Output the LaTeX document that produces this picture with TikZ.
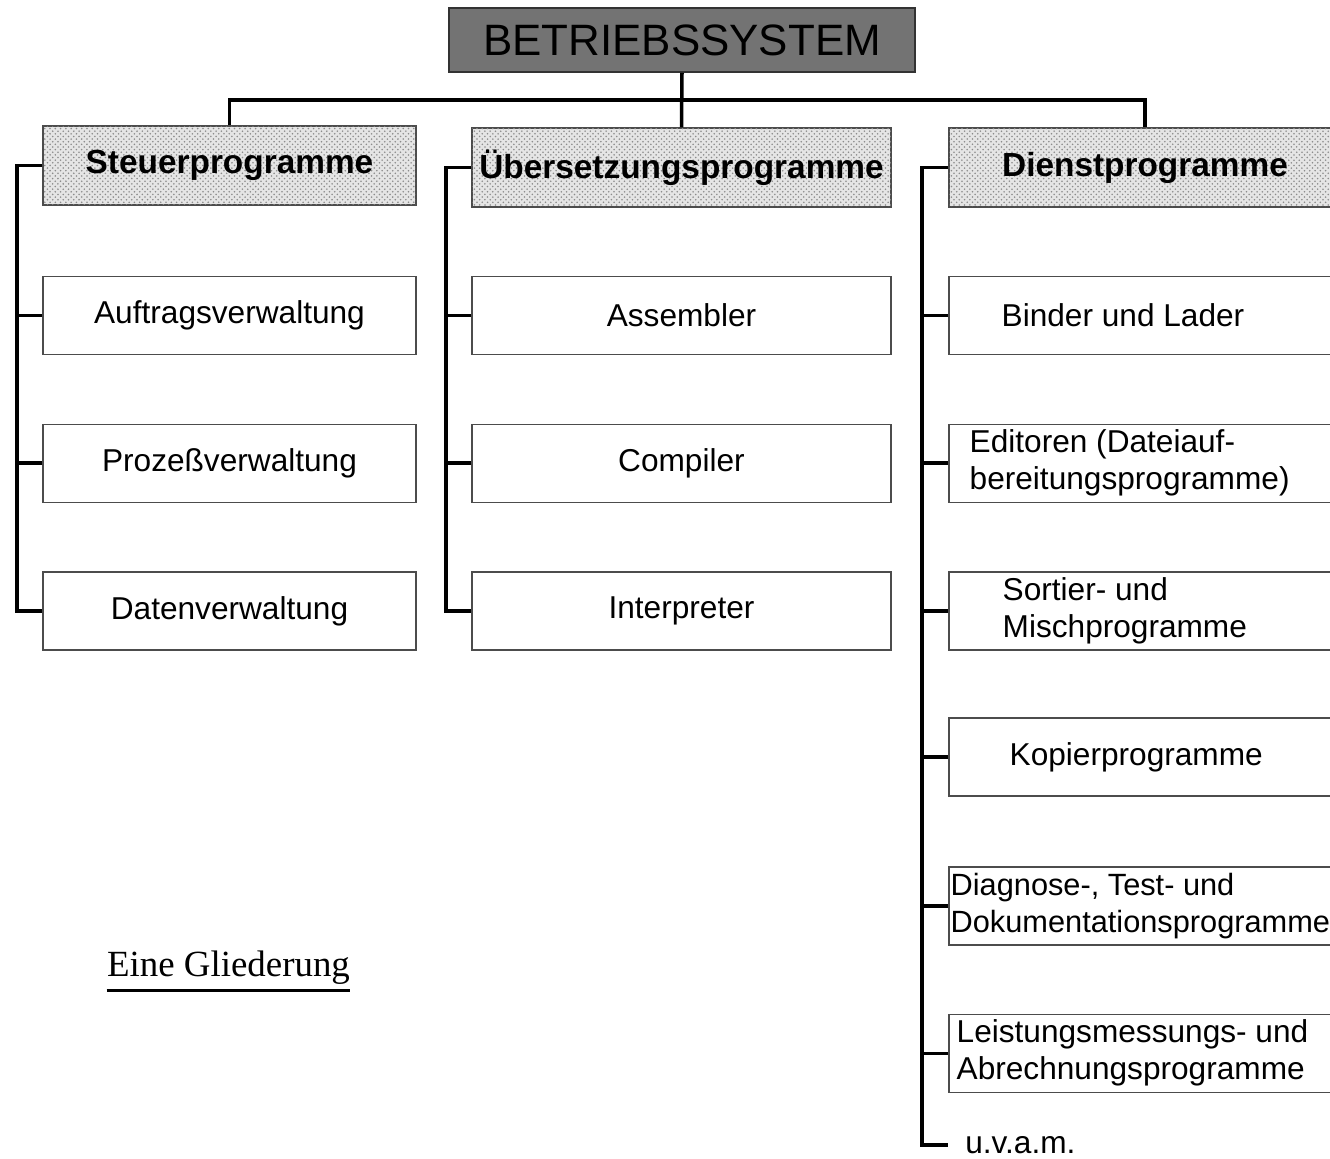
\documentclass[tikz,border=0pt]{standalone}
\usepackage{fontspec}
\setmainfont{Liberation Sans}
\newfontfamily\glfont{Liberation Serif}
\usetikzlibrary{positioning, patterns}

\begin{document}
\begin{tikzpicture}[x=0.02cm, y=-0.02cm, font=\fontsize{18}{21}\selectfont]
  \tikzstyle{topnode}=[draw=black!80, line width=1pt, fill=black!55, minimum width=9.32cm, minimum height=1.28cm, font=\fontsize{25}{28}\selectfont]
  \tikzstyle{headnode}=[draw=black!70, line width=0.8pt, fill=black!10, postaction={pattern=crosshatch dots, pattern color=black!45}, minimum height=1.58cm, font=\bfseries\fontsize{19}{22}\selectfont]
  \tikzstyle{itemnode}=[draw=black!70, line width=0.8pt, fill=white, minimum height=1.56cm, align=center]
  \tikzstyle{dnode}=[itemnode, minimum width=9cm]
  \tikzstyle{dtext}=[anchor=west, inner sep=0pt, label distance=0pt, align=left]
  \tikzstyle{conn}=[line width=2pt]

  \useasboundingbox (0,0) rectangle (1330,1159);
  \clip (0,0) rectangle (1330,1159);

  % top and the three groups
  \node[topnode] (bs) at (682,40) {BETRIEBSSYSTEM};
  \node[headnode, minimum width=7.46cm] (steuer) at (229.5,165.5) {Steuerprogramme};
  \node[headnode, minimum width=8.38cm] (uebers) at (681.5,167.5) {Übersetzungsprogramme};
  \node[headnode, minimum width=7.84cm] (dienst) at (1145,167.5) {Dienstprogramme};

  % left column
  \node[itemnode, minimum width=7.46cm, below=1.4cm of steuer] (auftrag) {Auftragsverwaltung};
  \node[itemnode, minimum width=7.46cm, below=1.37cm of auftrag] (prozess) {Prozeßverwaltung};
  \node[itemnode, minimum width=7.46cm, below=1.37cm of prozess] (daten) {Datenverwaltung};

  % middle column
  \node[itemnode, minimum width=8.38cm, below=1.36cm of uebers] (assembler) {Assembler};
  \node[itemnode, minimum width=8.38cm, below=1.37cm of assembler] (compiler) {Compiler};
  \node[itemnode, minimum width=8.38cm, below=1.37cm of compiler] (interpreter) {Interpreter};

  % right column, boxes run out of the picture
  \node[dnode, below=1.36cm of dienst.south west, anchor=north west, label={[dtext, xshift=1.06cm]west:Binder und Lader}] (binder) {};
  \node[dnode, below=1.37cm of binder.south west, anchor=north west, label={[dtext, xshift=0.42cm]west:{Editoren (Dateiauf-\\bereitungsprogramme)}}] (editoren) {};
  \node[dnode, below=1.37cm of editoren.south west, anchor=north west, label={[dtext, xshift=1.08cm]west:{Sortier- und\\Mischprogramme}}] (sortier) {};
  \node[dnode, below=1.33cm of sortier.south west, anchor=north west, label={[dtext, xshift=1.22cm]west:Kopierprogramme}] (kopier) {};
  \node[dnode, below=1.39cm of kopier.south west, anchor=north west, label={[dtext, xshift=0.04cm, font=\fontsize{17.5}{21}\selectfont]west:{Diagnose-, Test- und\\Dokumentationsprogramme}}] (diagnose) {};
  \node[dnode, below=1.36cm of diagnose.south west, anchor=north west, label={[dtext, xshift=0.16cm]west:{Leistungsmessungs- und\\Abrechnungsprogramme}}] (leistung) {};
  \node[anchor=west, inner xsep=0.34cm, inner ysep=0pt] (uvam) at (948,1145) {u.v.a.m.};

  \node[font=\glfont\fontsize{21}{24}\selectfont, inner sep=0pt] (gliederung) at (228.5,968) {Eine Gliederung};
  \draw[line width=1.5pt] ([yshift=-3pt]gliederung.south west) -- ([yshift=-3pt]gliederung.south east);

  % connectors
  \coordinate (bar) at (682,100);
  \draw[conn] (bs.south) -- (uebers.north);
  \draw[conn] (steuer.north) |- (bar) -| (dienst.north);

  \coordinate (sp1) at (17,0);
  \coordinate (sp2) at (446,0);
  \coordinate (sp3) at (922,0);
  \draw[conn] (steuer.west) -| (sp1 |- daten.west) -- (daten.west);
  \draw[conn] (uebers.west) -| (sp2 |- interpreter.west) -- (interpreter.west);
  \draw[conn] (dienst.west) -| (sp3 |- uvam.west) -- (uvam.west);
  \foreach \b in {auftrag, prozess}
    \draw[conn] (\b.west) -- (\b.west -| sp1);
  \foreach \b in {assembler, compiler}
    \draw[conn] (\b.west) -- (\b.west -| sp2);
  \foreach \b in {binder, editoren, sortier, kopier, diagnose, leistung}
    \draw[conn] (\b.west) -- (\b.west -| sp3);
\end{tikzpicture}
\end{document}
